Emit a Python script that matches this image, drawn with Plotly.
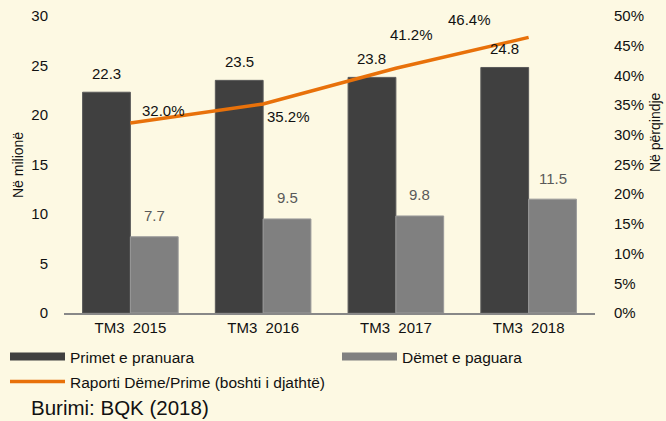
import plotly.graph_objects as go

categories = ["TM3  2015", "TM3  2016", "TM3  2017", "TM3  2018"]
primet = [22.3, 23.5, 23.8, 24.8]
demet = [7.7, 9.5, 9.8, 11.5]
raporti = [32.0, 35.2, 41.2, 46.4]
left_ticks = [0, 5, 10, 15, 20, 25, 30]
right_ticks = [0, 5, 10, 15, 20, 25, 30, 35, 40, 45, 50]

BG = "#FDF9E3"
FONT = "Liberation Sans, Arial, sans-serif"
DARK, GRAY, ORANGE = "#404040", "#808080", "#E8710A"
L, R, T, B = 64, 71, 16, 108
PW, PH = 666 - L - R, 421 - T - B


def px(xp):
    return (xp - L) / PW


def py(yp):
    return (421 - B - yp) / PH


fig = go.Figure()
fig.add_trace(go.Bar(x=categories, y=primet, name="Primet e pranuara", showlegend=False,
                     marker=dict(color=DARK, line=dict(color="#5a5a5a", width=1)),
                     offsetgroup="a"))
fig.add_trace(go.Bar(x=categories, y=demet, name="Dëmet e paguara", showlegend=False,
                     marker=dict(color=GRAY, line=dict(color="#9a9a9a", width=1)),
                     offsetgroup="b"))
# legend keys drawn as wide swatches like the original
fig.add_trace(go.Scatter(x=[None], y=[None], name="Primet e pranuara", mode="lines",
                         line=dict(color=DARK, width=8), legend="legend"))
fig.add_trace(go.Scatter(x=[None], y=[None], name="Dëmet e paguara", mode="lines",
                         line=dict(color=GRAY, width=8), legend="legend2"))
fig.add_trace(go.Scatter(x=categories, y=raporti, name="Raporti Dëme/Prime (boshti i djathtë)",
                         mode="lines", line=dict(color=ORANGE, width=3.5), yaxis="y2",
                         legend="legend3"))

for c, v in zip(categories, primet):
    fig.add_annotation(x=c, y=v, xref="x", yref="y", text=f"{v:.1f}", showarrow=False,
                       xshift=-24, yshift=19, font=dict(size=15, color="#111111"))
for c, v in zip(categories, demet):
    fig.add_annotation(x=c, y=v, xref="x", yref="y", text=f"{v:.1f}", showarrow=False,
                       xshift=24, yshift=21, font=dict(size=15, color="#595959"))
line_offsets = [(33, 12), (25, -13), (16, 34), (-59, 18)]
for c, v, (dx, dy) in zip(categories, raporti, line_offsets):
    fig.add_annotation(x=c, y=v, xref="x", yref="y2", text=f"{v:.1f}%", showarrow=False,
                       xshift=dx, yshift=dy, font=dict(size=15, color="#111111"))

fig.add_annotation(x=px(18), y=py(165), xref="paper", yref="paper",
                   text="Në milionë", textangle=-90, showarrow=False,
                   xanchor="center", yanchor="middle", font=dict(size=14, color="#111111"))
fig.add_annotation(x=px(655), y=py(132), xref="paper", yref="paper",
                   text="Në përqindje", textangle=-90, showarrow=False,
                   xanchor="center", yanchor="middle", font=dict(size=14, color="#111111"))
fig.add_annotation(x=px(29), y=py(407), xref="paper", yref="paper",
                   text="Burimi: BQK (2018)", xanchor="left", yanchor="middle",
                   showarrow=False, font=dict(size=20.5, color="#111111"))

leg_common = dict(orientation="h", xanchor="left", yanchor="middle", font=dict(size=15.5),
                  bgcolor="rgba(0,0,0,0)", itemwidth=55)

fig.update_layout(
    width=666, height=421,
    paper_bgcolor=BG, plot_bgcolor=BG,
    font=dict(family=FONT, size=15, color="#111111"),
    margin=dict(l=L, r=R, t=T, b=B, autoexpand=False),
    bargap=0.28, bargroupgap=0,
    barmode="group",
    xaxis=dict(showline=True, linecolor="#888888", linewidth=2, ticks="",
               tickfont=dict(size=15), showgrid=False),
    yaxis=dict(range=[0, 30], tickvals=left_ticks, showgrid=False, zeroline=False,
               ticks="outside", ticklen=12, tickcolor=BG, tickfont=dict(size=15)),
    yaxis2=dict(range=[0, 50], tickvals=right_ticks, ticktext=[f"{t}%" for t in right_ticks],
                overlaying="y", side="right", showgrid=False, zeroline=False,
                ticks="outside", ticklen=15, tickcolor=BG, tickfont=dict(size=15)),
    legend=dict(x=px(5), y=py(357), **leg_common),
    legend2=dict(x=px(337), y=py(357), **leg_common),
    legend3=dict(x=px(5), y=py(382), **leg_common),
    showlegend=True,
)

fig.write_html("out.html", config={"displayModeBar": False},
               post_script="document.body.style.margin='0';")
